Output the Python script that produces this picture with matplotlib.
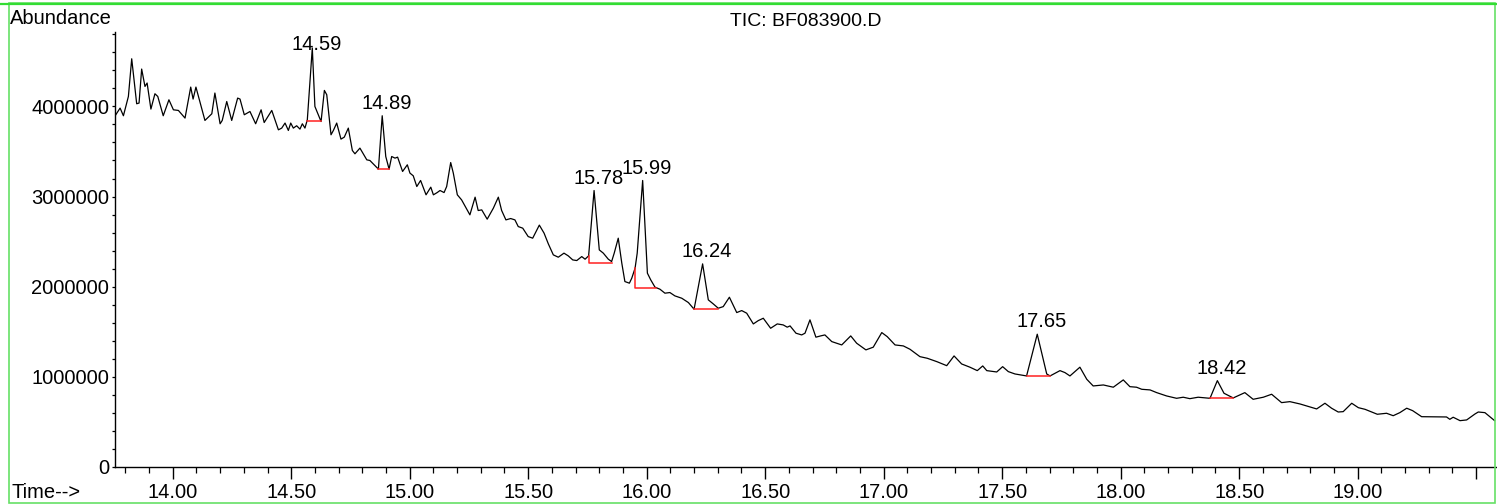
import matplotlib
matplotlib.use("Agg")
import matplotlib.pyplot as plt
from matplotlib.ticker import MultipleLocator, FuncFormatter, FixedLocator
from matplotlib.patches import Rectangle

plt.rcParams['font.family'] = ['Liberation Sans', 'DejaVu Sans']

# retention time (min) and total ion current
rt = [13.757, 13.778, 13.792, 13.813, 13.827, 13.848, 13.858, 13.869, 13.883, 13.892,
      13.908, 13.925, 13.937, 13.960, 13.984, 14.003, 14.024, 14.052, 14.076, 14.086,
      14.098, 14.136, 14.165, 14.178, 14.200, 14.209, 14.228, 14.249, 14.274, 14.284,
      14.302, 14.326, 14.350, 14.373, 14.386, 14.418, 14.446, 14.460, 14.474, 14.488,
      14.498, 14.509, 14.523, 14.537, 14.547, 14.558, 14.568, 14.589, 14.600, 14.626,
      14.640, 14.650, 14.668, 14.678, 14.692, 14.710, 14.724, 14.741, 14.758, 14.769,
      14.790, 14.819, 14.832, 14.868, 14.884, 14.899, 14.913, 14.924, 14.938, 14.949,
      14.970, 14.990, 15.001, 15.015, 15.030, 15.046, 15.069, 15.089, 15.100, 15.116,
      15.128, 15.145, 15.156, 15.173, 15.184, 15.201, 15.219, 15.254, 15.276, 15.289,
      15.304, 15.327, 15.353, 15.374, 15.388, 15.406, 15.426, 15.444, 15.458, 15.477,
      15.500, 15.519, 15.547, 15.567, 15.585, 15.606, 15.627, 15.651, 15.669, 15.688,
      15.705, 15.726, 15.740, 15.755, 15.778, 15.800, 15.817, 15.838, 15.852, 15.863,
      15.880, 15.895, 15.908, 15.927, 15.937, 15.951, 15.960, 15.983, 16.003, 16.017,
      16.035, 16.056, 16.077, 16.098, 16.119, 16.148, 16.176, 16.200, 16.236, 16.260,
      16.281, 16.302, 16.323, 16.349, 16.380, 16.401, 16.422, 16.450, 16.471, 16.492,
      16.523, 16.551, 16.576, 16.593, 16.605, 16.630, 16.654, 16.668, 16.689, 16.714,
      16.734, 16.752, 16.781, 16.823, 16.841, 16.861, 16.886, 16.925, 16.956, 16.992,
      17.015, 17.048, 17.083, 17.111, 17.153, 17.184, 17.224, 17.266, 17.297, 17.329,
      17.364, 17.395, 17.418, 17.435, 17.477, 17.502, 17.526, 17.554, 17.603, 17.648,
      17.688, 17.702, 17.744, 17.765, 17.786, 17.828, 17.857, 17.884, 17.927, 17.969,
      18.011, 18.039, 18.067, 18.089, 18.124, 18.152, 18.194, 18.236, 18.264, 18.292,
      18.327, 18.377, 18.408, 18.436, 18.475, 18.524, 18.559, 18.602, 18.637, 18.679,
      18.714, 18.757, 18.785, 18.827, 18.862, 18.890, 18.918, 18.939, 18.975, 19.003,
      19.031, 19.083, 19.122, 19.150, 19.178, 19.207, 19.232, 19.270, 19.375, 19.389,
      19.403, 19.432, 19.460, 19.495, 19.509, 19.537, 19.578]

# abundance in millions
tic = [3.896, 3.981, 3.896, 4.110, 4.528, 4.029, 4.037, 4.414, 4.221, 4.259,
       3.970, 4.140, 4.110, 3.896, 4.073, 3.962, 3.955, 3.870, 4.214, 4.081,
       4.214, 3.844, 3.918, 4.148, 3.807, 3.844, 4.054, 3.844, 4.092, 4.081,
       3.907, 3.943, 3.807, 3.962, 3.821, 3.955, 3.740, 3.759, 3.815, 3.733,
       3.815, 3.759, 3.785, 3.748, 3.807, 3.759, 3.851, 4.647, 3.999, 3.832,
       4.177, 4.129, 3.685, 3.733, 3.815, 3.637, 3.659, 3.759, 3.511, 3.474,
       3.537, 3.407, 3.400, 3.304, 3.896, 3.444, 3.304, 3.444, 3.426, 3.437,
       3.278, 3.352, 3.260, 3.230, 3.111, 3.178, 3.019, 3.104, 3.019, 3.044,
       3.067, 3.044, 3.111, 3.377, 3.260, 3.019, 2.963, 2.797, 2.993, 2.845,
       2.852, 2.749, 2.871, 2.993, 2.845, 2.741, 2.756, 2.741, 2.667, 2.649,
       2.556, 2.538, 2.683, 2.594, 2.475, 2.353, 2.327, 2.372, 2.342, 2.297,
       2.290, 2.334, 2.305, 2.342, 3.067, 2.408, 2.372, 2.305, 2.279, 2.372,
       2.538, 2.261, 2.057, 2.039, 2.094, 2.205, 2.372, 3.178, 2.150, 2.076,
       1.995, 1.972, 1.928, 1.935, 1.898, 1.872, 1.824, 1.750, 2.253, 1.854,
       1.809, 1.761, 1.779, 1.883, 1.713, 1.735, 1.706, 1.587, 1.624, 1.650,
       1.539, 1.587, 1.576, 1.551, 1.565, 1.484, 1.465, 1.484, 1.632, 1.440,
       1.454, 1.465, 1.391, 1.354, 1.402, 1.454, 1.373, 1.299, 1.329, 1.491,
       1.446, 1.354, 1.343, 1.306, 1.224, 1.206, 1.169, 1.124, 1.232, 1.143,
       1.107, 1.069, 1.121, 1.069, 1.054, 1.113, 1.058, 1.032, 1.010, 1.473,
       1.032, 1.010, 1.069, 1.047, 1.010, 1.107, 0.973, 0.899, 0.910, 0.885,
       0.966, 0.891, 0.885, 0.862, 0.855, 0.825, 0.788, 0.762, 0.774, 0.758,
       0.774, 0.762, 0.958, 0.818, 0.766, 0.825, 0.751, 0.774, 0.807, 0.714,
       0.725, 0.699, 0.677, 0.644, 0.707, 0.652, 0.610, 0.614, 0.707, 0.658,
       0.640, 0.585, 0.596, 0.569, 0.603, 0.652, 0.625, 0.558, 0.555, 0.529,
       0.552, 0.514, 0.522, 0.588, 0.610, 0.603, 0.514]

# integrated peaks: label, apex, baseline start/end time and level
peak_labels = ['14.59', '14.89', '15.78', '15.99', '16.24', '17.65', '18.42']
peak_rt = [14.589, 14.884, 15.778, 15.983, 16.236, 17.648, 18.408]
peak_apex = [4.647, 3.896, 3.067, 3.178, 2.253, 1.473, 0.958]
base_start = [14.568, 14.868, 15.755, 15.951, 16.200, 17.603, 18.377]
base_end = [14.626, 14.913, 15.852, 16.040, 16.302, 17.702, 18.475]
base_level = [3.840, 3.304, 2.261, 1.988, 1.750, 1.010, 0.766]
base_drop = [None, None, 2.342, 2.205, None, None, None]  # signal level where a drop line starts

W, H = 1497, 504
fig = plt.figure(figsize=(W / 100, H / 100), dpi=100)
ax = fig.add_axes([115 / W, 37 / H, (W - 115) / W, (467 - 32) / H])

ax.plot(rt, [v * 1e6 for v in tic], color='black', lw=0.9)

for i in range(len(peak_labels)):
    xs = [base_start[i], base_end[i]]
    ys = [base_level[i] * 1e6, base_level[i] * 1e6]
    if base_drop[i] is not None:
        xs = [base_start[i]] + xs
        ys = [base_drop[i] * 1e6] + ys
    ax.plot(xs, ys, color='#ff2020', lw=1.1)
    y_anchor = min(peak_apex[i], 4.55) * 1e6
    ax.annotate(peak_labels[i], (peak_rt[i], y_anchor), xytext=(3, 5),
                textcoords='offset points', ha='center', va='baseline', fontsize=14.5)

ax.set_xlim(13.7565, 19.588)
ax.set_ylim(0, 4.825e6)

for s in ['top', 'right']:
    ax.spines[s].set_visible(False)
ax.spines['left'].set_linewidth(1.0)
ax.spines['bottom'].set_linewidth(1.0)

ax.xaxis.set_major_locator(MultipleLocator(0.5))
ax.xaxis.set_minor_locator(MultipleLocator(0.1))
ax.xaxis.set_major_formatter(FuncFormatter(lambda v, p: '' if v > 19.2 else f'{v:.2f}'))
ax.yaxis.set_major_locator(MultipleLocator(1e6))
ax.yaxis.set_minor_locator(MultipleLocator(2e5))
ax.yaxis.set_major_formatter(FuncFormatter(lambda v, p: f'{v:.0f}'))

ax.tick_params(axis='x', which='major', length=8.5, width=1.0, pad=3, labelsize=14.5)
ax.tick_params(axis='x', which='minor', length=4.3, width=0.9)
ax.tick_params(axis='y', which='both', length=2.2, width=0.9, pad=2, labelsize=14.5)

ax.set_title('TIC: BF083900.D', fontsize=14, pad=4)
fig.text(10 / W, 1 - 24 / H, 'Abundance', fontsize=14.5, va='baseline', ha='left')
fig.text(11 / W, 1 - 498 / H, 'Time-->', fontsize=14.5, va='baseline', ha='left')

# green frame around the whole picture
fig.patches.append(Rectangle((9 / W, 1 / H), (W - 11) / W, (H - 4) / H, transform=fig.transFigure,
                             fill=False, edgecolor='#66e066', lw=1.2))
fig.add_artist(plt.Line2D([0, 1], [1 - 4 / H, 1 - 4 / H], transform=fig.transFigure,
                          color='#33dd33', lw=1.6))

fig.savefig('out.png', dpi=100)
